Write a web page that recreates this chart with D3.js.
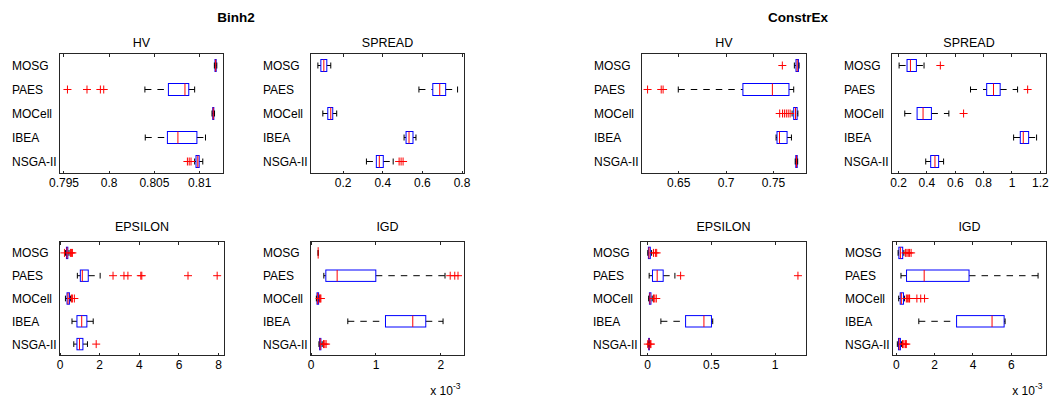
<!DOCTYPE html>
<html>
<head>
<meta charset="utf-8">
<script src="https://cdn.jsdelivr.net/npm/d3@7"></script>
<style>
  body { margin: 0; background: #fff; }
  svg text { font-family: "Liberation Sans", Arial, Helvetica, sans-serif; fill: #000; }
</style>
</head>
<body>
<svg id="fig" width="1052" height="398"></svg>
<script>
// ---- data -------------------------------------------------------------
const algorithms = ["MOSG", "PAES", "MOCell", "IBEA", "NSGA-II"];
const problems = ["Binh2", "ConstrEx"];
const indicators = ["HV", "SPREAD", "EPSILON", "IGD"];

// one row per algorithm: [lower whisker, Q1, median, Q3, upper whisker, outliers]
const binh2HV = [
  [0.81168, 0.81175, 0.81182, 0.81188, 0.81195, []],
  [0.80400, 0.80660, 0.80843, 0.80885, 0.80950, [0.79544, 0.79760, 0.79908, 0.79945]],
  [0.81142, 0.81150, 0.81156, 0.81162, 0.81170, []],
  [0.80404, 0.80649, 0.80765, 0.80975, 0.81070, []],
  [0.80950, 0.80965, 0.80985, 0.81000, 0.81040, [0.80870, 0.80890, 0.80910]]
];
const binh2Spread = [
  [0.075, 0.090, 0.105, 0.120, 0.140, []],
  [0.585, 0.655, 0.690, 0.720, 0.780, []],
  [0.100, 0.125, 0.140, 0.150, 0.170, []],
  [0.510, 0.520, 0.535, 0.555, 0.570, []],
  [0.320, 0.370, 0.385, 0.405, 0.455, [0.485, 0.495, 0.505]]
];
const binh2Epsilon = [
  [0.30, 0.35, 0.38, 0.42, 0.48, [0.25, 0.55, 0.60, 0.65]],
  [0.90, 1.05, 1.15, 1.45, 2.05, [2.70, 3.25, 3.45, 4.10, 4.15, 6.48, 7.95]],
  [0.30, 0.38, 0.43, 0.50, 0.55, [0.60, 0.65, 0.75]],
  [0.63, 0.88, 1.12, 1.38, 1.70, []],
  [0.72, 0.88, 1.01, 1.18, 1.41, [1.85]]
];
// IGD values in units of 1e-3
const binh2IGD = [
  [0.118, 0.118, 0.118, 0.118, 0.118, []],
  [0.205, 0.236, 0.410, 1.005, 2.070, [2.15, 2.22, 2.27]],
  [0.090, 0.100, 0.110, 0.125, 0.135, [0.14, 0.15, 0.16]],
  [0.574, 1.154, 1.574, 1.774, 2.040, []],
  [0.130, 0.140, 0.150, 0.160, 0.180, [0.20, 0.22, 0.24]]
];
const constrExHV = [
  [0.7725, 0.7742, 0.7755, 0.7768, 0.7775, [0.7598]],
  [0.6500, 0.7182, 0.7493, 0.7668, 0.7718, [0.6176, 0.6320, 0.6340]],
  [0.7701, 0.7718, 0.7737, 0.7754, 0.7762, [0.757, 0.760, 0.762, 0.764, 0.766, 0.768]],
  [0.7532, 0.7542, 0.7568, 0.7648, 0.7694, []],
  [0.7734, 0.7740, 0.7748, 0.7755, 0.7760, []]
];
const constrExSpread = [
  [0.207, 0.263, 0.287, 0.329, 0.383, [0.498]],
  [0.711, 0.825, 0.873, 0.920, 1.043, [1.114]],
  [0.247, 0.334, 0.376, 0.435, 0.558, [0.662]],
  [1.015, 1.062, 1.083, 1.121, 1.177, []],
  [0.395, 0.430, 0.460, 0.486, 0.521, []]
];
const constrExEpsilon = [
  [0.005, 0.010, 0.015, 0.025, 0.035, [0.050, 0.065, 0.075]],
  [0.016, 0.042, 0.079, 0.126, 0.218, [0.263, 1.184]],
  [0.012, 0.018, 0.022, 0.030, 0.040, [0.050, 0.060, 0.072]],
  [0.108, 0.302, 0.446, 0.505, 0.515, []],
  [0.008, 0.012, 0.015, 0.018, 0.022, [0.005, 0.025, 0.030]]
];
// IGD values in units of 1e-3
const constrExIGD = [
  [0.12, 0.16, 0.24, 0.36, 0.42, [0.50, 0.58, 0.65, 0.72, 0.80]],
  [0.27, 0.56, 1.48, 3.82, 7.42, []],
  [0.15, 0.23, 0.29, 0.40, 0.45, [0.55, 0.62, 0.68, 0.72, 1.10, 1.30, 1.50]],
  [1.20, 3.17, 5.02, 5.65, 5.70, []],
  [0.08, 0.14, 0.18, 0.24, 0.30, [0.35, 0.42, 0.50, 0.55]]
];

// x-axis tick values
const binh2HVTicks = [0.795, 0.8, 0.805, 0.81];
const binh2SpreadTicks = [0.2, 0.4, 0.6, 0.8];
const binh2EpsilonTicks = [0, 2, 4, 6, 8];
const binh2IGDTicks = [0, 1, 2];
const constrExHVTicks = [0.65, 0.7, 0.75];
const constrExSpreadTicks = [0.2, 0.4, 0.6, 0.8, 1, 1.2];
const constrExEpsilonTicks = [0, 0.5, 1];
const constrExIGDTicks = [0, 2, 4, 6];
const igdExponent = -3;

// ---- layout -----------------------------------------------------------
const rowTop = { y0: 53.5, y1: 173.5, titleY: 46.5 };
const rowBottom = { y0: 241.5, y1: 355.5, titleY: 230.5 };

const panels = [
  { title: indicators[0], data: binh2HV, ticks: binh2HVTicks, domain: [0.79456, 0.81269], x0: 59.5, x1: 223.5, row: rowTop },
  { title: indicators[1], data: binh2Spread, ticks: binh2SpreadTicks, domain: [0.0377, 0.815], x0: 310.5, x1: 464.5, row: rowTop },
  { title: indicators[2], data: binh2Epsilon, ticks: binh2EpsilonTicks, domain: [0, 8.32], x0: 59.5, x1: 224.5, row: rowBottom },
  { title: indicators[3], data: binh2IGD, ticks: binh2IGDTicks, domain: [0, 2.37], x0: 310.5, x1: 464.5, row: rowBottom, exponent: igdExponent },
  { title: indicators[0], data: constrExHV, ticks: constrExHVTicks, domain: [0.6112, 0.7853], x0: 641.5, x1: 806.5, row: rowTop },
  { title: indicators[1], data: constrExSpread, ticks: constrExSpreadTicks, domain: [0.1534, 1.247], x0: 891.5, x1: 1046.5, row: rowTop },
  { title: indicators[2], data: constrExEpsilon, ticks: constrExEpsilonTicks, domain: [-0.052, 1.2512], x0: 640.5, x1: 806.5, row: rowBottom },
  { title: indicators[3], data: constrExIGD, ticks: constrExIGDTicks, domain: [-0.172, 7.86], x0: 892.5, x1: 1046.5, row: rowBottom, exponent: igdExponent }
];

const svg = d3.select("#fig");
const fmt = d3.format("~g");

// group titles
svg.append("text").attr("x", 236).attr("y", 22).attr("text-anchor", "middle")
  .style("font-size", "13.5px").style("font-weight", "bold").text(problems[0]);
svg.append("text").attr("x", 798).attr("y", 22).attr("text-anchor", "middle")
  .style("font-size", "13.5px").style("font-weight", "bold").text(problems[1]);

panels.forEach(p => {
  const g = svg.append("g");
  const { y0, y1, titleY } = p.row;
  const x = d3.scaleLinear().domain(p.domain).range([p.x0, p.x1]);
  const y = d3.scaleLinear().domain([0.5, algorithms.length + 0.5]).range([y0, y1]);
  const unit = y(1) - y(0);
  const boxHalf = 0.25 * unit;
  const capHalf = 0.125 * unit;

  // frame
  g.append("rect").attr("x", p.x0).attr("y", y0)
    .attr("width", p.x1 - p.x0).attr("height", y1 - y0)
    .attr("fill", "none").attr("stroke", "#262626").attr("stroke-width", 1);

  // inward ticks on top and bottom edges, labels below
  const axB = d3.axisBottom(x).tickValues(p.ticks).tickSize(-3).tickPadding(5).tickFormat(fmt);
  const axT = d3.axisTop(x).tickValues(p.ticks).tickSize(-3).tickFormat("");
  const gb = g.append("g").attr("transform", `translate(0,${y1})`).call(axB);
  const gt = g.append("g").attr("transform", `translate(0,${y0})`).call(axT);
  [gb, gt].forEach(a => {
    a.select(".domain").remove();
    a.selectAll(".tick line").attr("stroke", "#262626").attr("shape-rendering", "crispEdges");
  });
  gb.selectAll(".tick text").style("font-size", "12px").style("font-family", null).attr("fill", "#000");

  // subplot title
  g.append("text").attr("x", (p.x0 + p.x1) / 2).attr("y", titleY)
    .attr("text-anchor", "middle").style("font-size", "12.5px").text(p.title);

  // category labels
  g.selectAll(".cat").data(algorithms).join("text")
    .attr("x", p.x0 - 47.5).attr("y", (d, i) => y(i + 1) + 4.5)
    .style("font-size", "12px").text(d => d);

  const rows = g.selectAll(".bx").data(p.data).join("g");

  // whiskers
  rows.append("line").attr("x1", d => x(d[0])).attr("x2", d => x(d[1]))
    .attr("y1", (d, i) => y(i + 1)).attr("y2", (d, i) => y(i + 1))
    .attr("stroke", "#000").attr("stroke-dasharray", "6.5,6");
  rows.append("line").attr("x1", d => x(d[3])).attr("x2", d => x(d[4]))
    .attr("y1", (d, i) => y(i + 1)).attr("y2", (d, i) => y(i + 1))
    .attr("stroke", "#000").attr("stroke-dasharray", "6.5,6");

  // box
  rows.append("rect").attr("x", d => x(d[1])).attr("width", d => Math.max(0, x(d[3]) - x(d[1])))
    .attr("y", (d, i) => y(i + 1) - boxHalf).attr("height", 2 * boxHalf)
    .attr("fill", "none").attr("stroke", "#0000ff");

  // whisker caps
  [0, 4].forEach(k => {
    rows.append("line").attr("x1", d => x(d[k])).attr("x2", d => x(d[k]))
      .attr("y1", (d, i) => y(i + 1) - capHalf).attr("y2", (d, i) => y(i + 1) + capHalf)
      .attr("stroke", "#000");
  });

  // median
  rows.append("line").attr("x1", d => x(d[2])).attr("x2", d => x(d[2]))
    .attr("y1", (d, i) => y(i + 1) - boxHalf).attr("y2", (d, i) => y(i + 1) + boxHalf)
    .attr("stroke", "#ff0000");

  // outliers
  rows.each(function (d, i) {
    const cy = y(i + 1);
    d3.select(this).selectAll(".out").data(d[5]).join("path")
      .attr("d", v => `M${x(v) - 4},${cy}H${x(v) + 4}M${x(v)},${cy - 4}V${cy + 4}`)
      .attr("stroke", "#ff0000").attr("fill", "none");
  });

  // exponent note under the axis
  if (p.exponent !== undefined) {
    const t = g.append("text").attr("x", p.x1 - 4).attr("y", 395).attr("text-anchor", "end")
      .style("font-size", "12px");
    t.append("tspan").text("x 10");
    t.append("tspan").attr("dy", -6).style("font-size", "8.5px").text(String(p.exponent));
  }
});
</script>
</body>
</html>
